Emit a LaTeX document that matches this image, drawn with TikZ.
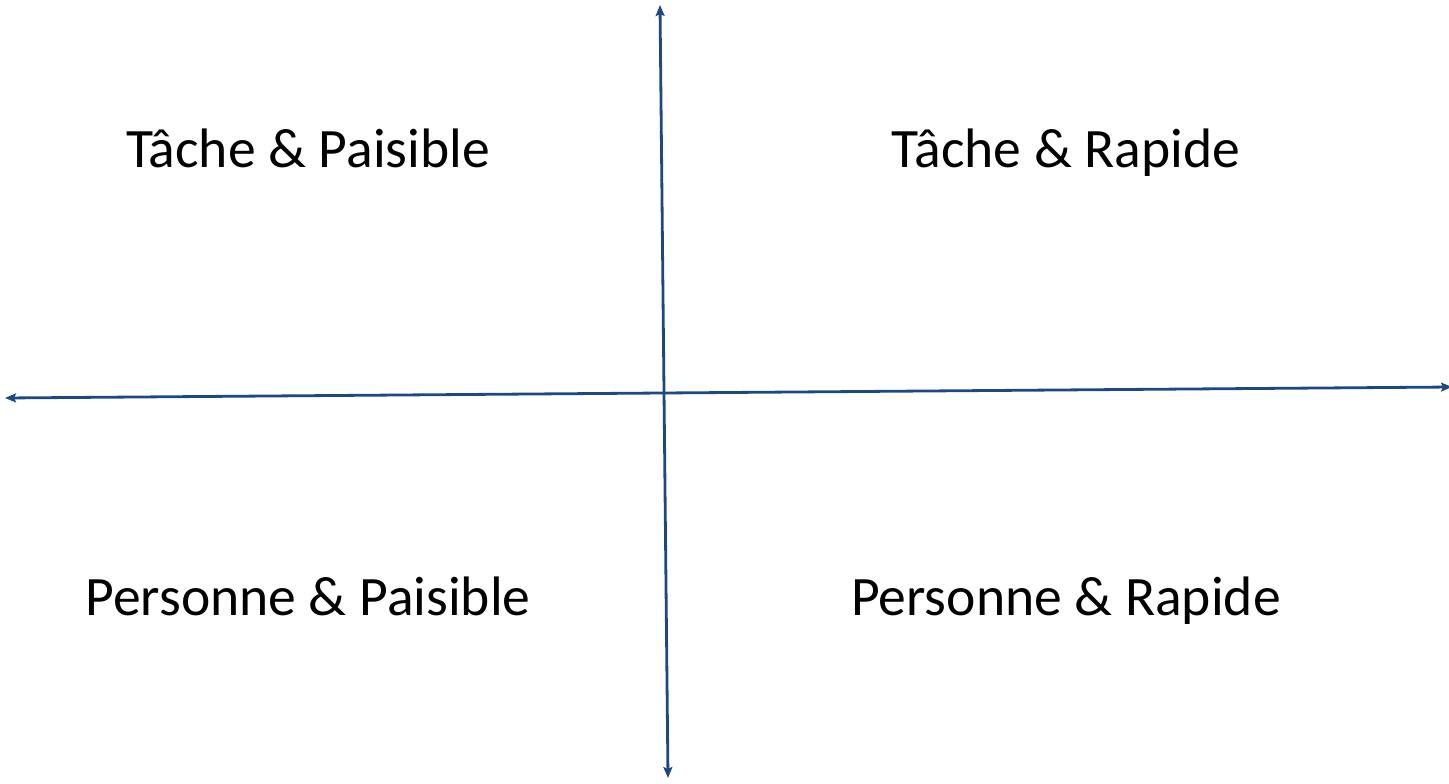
\documentclass[tikz,border=0pt]{standalone}
\usepackage{fontspec}
\setmainfont{Carlito}
\usetikzlibrary{arrows.meta}
\definecolor{axisblue}{RGB}{31,73,125}
\tikzset{
  axis/.style={draw=axisblue, line width=2.8pt, {Stealth[length=11pt,width=9pt,inset=2pt]}-{Stealth[length=11pt,width=9pt,inset=2pt]}},
  label/.style={anchor=base, inner sep=0pt, font=\fontsize{55.6}{66}\selectfont}
}
\begin{document}
\begin{tikzpicture}[x=1pt,y=-1pt]
\useasboundingbox (0,0) rectangle (1449,784);
\coordinate (top) at (660,5);
\coordinate (bottom) at (668,778);
\coordinate (left) at (5,398);
\coordinate (right) at (1452,387);
\draw[axis] (bottom) -- (top);
\draw[axis] (right) -- (left);
\node[label] (tp) at (308,167) {Tâche \& Paisible};
\node[label] (tr) at (1066,167) {Tâche \& Rapide};
\node[label] (pp) at (308,615) {Personne \& Paisible};
\node[label] (pr) at (1066,615) {Personne \& Rapide};
\end{tikzpicture}
\end{document}
